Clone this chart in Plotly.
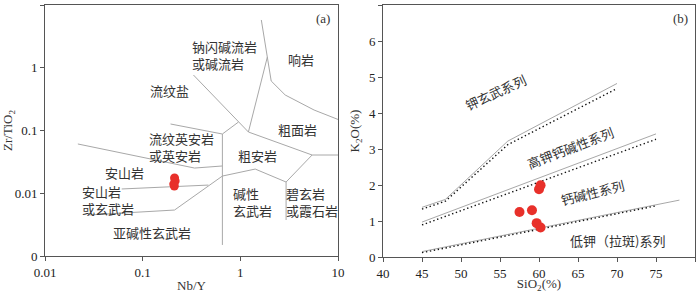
import math
import plotly.graph_objects as go

# ---------------- data ----------------
# (a) Nb/Y vs Zr/TiO2 samples
nby_pts = [0.212, 0.215, 0.208, 0.211]
zrti_pts = [0.0175, 0.0157, 0.0140, 0.0130]

# (a) boundary polylines (Nb/Y, Zr/TiO2)
bnd_a = [
    ([1.64, 1.89, 2.07, 2.88, 5.69, 10.0], [5.77, 1.48, 0.615, 0.368, 0.212, 0.15]),
    ([1.89, 1.21], [1.48, 0.0946]),
    ([0.331, 0.955, 1.21, 5.43, 10.0], [0.766, 0.136, 0.0946, 0.0407, 0.0407]),
    ([0.955, 0.655, 0.655], [0.136, 0.0879, 0.0015]),
    ([0.193, 0.655], [0.127, 0.0879]),
    ([5.43, 2.94, 2.94], [0.0407, 0.0151, 0.00375]),
    ([2.94, 1.42, 0.655, 0.212, 0.0275], [0.0151, 0.0243, 0.0188, 0.0054, 0.0045]),
    ([0.0217, 0.340, 0.655], [0.061, 0.0252, 0.0272]),
    ([0.061, 0.471], [0.0117, 0.0135]),
]

# (a) field labels: text, Nb/Y, Zr/TiO2, anchor
labels_a = [
    ("钠闪碱流岩<br>或碱流岩", 0.302, 1.60, "left"),
    ("响岩", 4.19, 1.33, "center"),
    ("流纹盐", 0.189, 0.442, "center"),
    ("粗面岩", 3.82, 0.102, "center"),
    ("流纹英安岩<br>或英安岩", 0.112, 0.0546, "left"),
    ("粗安岩", 1.49, 0.0407, "center"),
    ("安山岩", 0.0655, 0.0218, "center"),
    ("安山岩<br>或玄武岩", 0.0228, 0.0078, "left"),
    ("碱性<br>玄武岩", 0.81, 0.00726, "left"),
    ("碧玄岩<br>或霞石岩", 2.81, 0.00726, "left"),
    ("亚碱性玄武岩", 0.126, 0.00241, "center"),
]

# (b) SiO2 vs K2O samples
sio2_pts = [57.5, 59.1, 60.0, 60.2, 59.7, 60.2]
k2o_pts = [1.25, 1.30, 1.88, 1.99, 0.94, 0.82]

# (b) series boundaries
solid_top_x, solid_top_y = [45, 48, 56, 70], [1.38, 1.60, 3.22, 4.82]
dot_top_x, dot_top_y = [45, 48, 56, 70], [1.33, 1.55, 3.12, 4.68]
solid_mid_x, solid_mid_y = [45, 75], [0.97, 3.42]
dot_mid_x, dot_mid_y = [45, 75], [0.89, 3.27]
solid_low_x, solid_low_y = [45, 78], [0.15, 1.58]
dot_low_x, dot_low_y = [45, 75], [0.12, 1.42]

# (b) series labels: text, SiO2, K2O, angle
labels_b = [
    ("钾玄武系列", 54.4, 4.58, -25),
    ("高钾钙碱性系列", 64.1, 3.03, -21),
    ("钙碱性系列", 66.9, 1.80, -14),
    ("低钾（拉斑)系列", 70.1, 0.47, 0),
]

# ---------------- figure ----------------
CJK = "Noto Sans CJK SC"
SERIF = "Liberation Serif"
GRAYLINE = "#a8a8a8"
TXT = "#333333"
RED = "#e8302a"

fig = go.Figure()

for xs, ys in bnd_a:
    fig.add_trace(go.Scatter(x=xs, y=ys, mode="lines", xaxis="x", yaxis="y",
                             line=dict(color=GRAYLINE, width=1), hoverinfo="skip"))

fig.add_trace(go.Scatter(x=nby_pts, y=zrti_pts, mode="markers", xaxis="x", yaxis="y",
                         marker=dict(color=RED, size=9, line=dict(width=0))))

for xs, ys in [(solid_top_x, solid_top_y), (solid_mid_x, solid_mid_y), (solid_low_x, solid_low_y)]:
    fig.add_trace(go.Scatter(x=xs, y=ys, mode="lines", xaxis="x2", yaxis="y2",
                             line=dict(color=GRAYLINE, width=1)))
for xs, ys in [(dot_top_x, dot_top_y), (dot_mid_x, dot_mid_y), (dot_low_x, dot_low_y)]:
    fig.add_trace(go.Scatter(x=xs, y=ys, mode="lines", xaxis="x2", yaxis="y2",
                             line=dict(color="#111111", width=1.4, dash="1.4px,2.6px")))

fig.add_trace(go.Scatter(x=sio2_pts, y=k2o_pts, mode="markers", xaxis="x2", yaxis="y2",
                         marker=dict(color=RED, size=10, line=dict(width=0))))

ann = []
for t, x, y, anc in labels_a:
    ann.append(dict(text=t, x=math.log10(x), y=math.log10(y), xref="x", yref="y",
                    showarrow=False, xanchor=anc, yanchor="middle", align="left",
                    font=dict(family=CJK, size=13, color=TXT)))
for t, x, y, ang in labels_b:
    ann.append(dict(text=t, x=x, y=y, xref="x2", yref="y2", showarrow=False,
                    textangle=ang, font=dict(family=CJK, size=13, color=TXT)))
ann.append(dict(text="(a)", x=0.98, y=0.985, xref="x domain", yref="y domain", showarrow=False,
                xanchor="right", yanchor="top", font=dict(family=SERIF, size=13, color=TXT)))
ann.append(dict(text="(b)", x=0.985, y=0.985, xref="x2 domain", yref="y2 domain", showarrow=False,
                xanchor="right", yanchor="top", font=dict(family=SERIF, size=13, color=TXT)))

axis_common = dict(showline=True, linecolor="#555555", linewidth=1, mirror=True,
                   ticks="outside", ticklen=4, tickcolor="#555555", showgrid=False,
                   zeroline=False, automargin=False,
                   tickfont=dict(family=SERIF, size=13, color="#222222"))

fig.update_layout(
    width=700, height=293,
    margin=dict(l=0, r=0, t=0, b=0, autoexpand=False),
    paper_bgcolor="white", plot_bgcolor="white",
    showlegend=False,
    annotations=ann,
    xaxis=dict(type="log", range=[-2, 1], domain=[45/700, 338/700],
               tickvals=[0.01, 0.1, 1, 10], ticktext=["0.01", "0.1", "1", "10"],
               title=dict(text="Nb/Y", font=dict(family=SERIF, size=13, color=TXT), standoff=2),
               anchor="y", **axis_common),
    yaxis=dict(type="log", range=[-3, 1], domain=[37/293, 288/293],
               tickvals=[0.001, 0.01, 0.1, 1, 10], ticktext=["0", "0.01", "0.1", "1", "10"],
               title=dict(text="Zr/TiO<sub>2</sub>", font=dict(family=SERIF, size=13, color=TXT), standoff=4),
               anchor="x", **axis_common),
    xaxis2=dict(range=[40, 80], dtick=5, domain=[383/700, 695/700],
                title=dict(text="SiO<sub>2</sub>(%)", font=dict(family=SERIF, size=13, color=TXT), standoff=2),
                anchor="y2", **axis_common),
    yaxis2=dict(range=[0, 7], dtick=1, domain=[36/293, 288/293],
                title=dict(text="K<sub>2</sub>O(%)", font=dict(family=SERIF, size=13, color=TXT), standoff=6),
                anchor="x2", **axis_common),
)

fig.write_html("out.html", config={"displayModeBar": False},
               post_script="document.body.style.margin='0';document.body.style.overflow='hidden';")
